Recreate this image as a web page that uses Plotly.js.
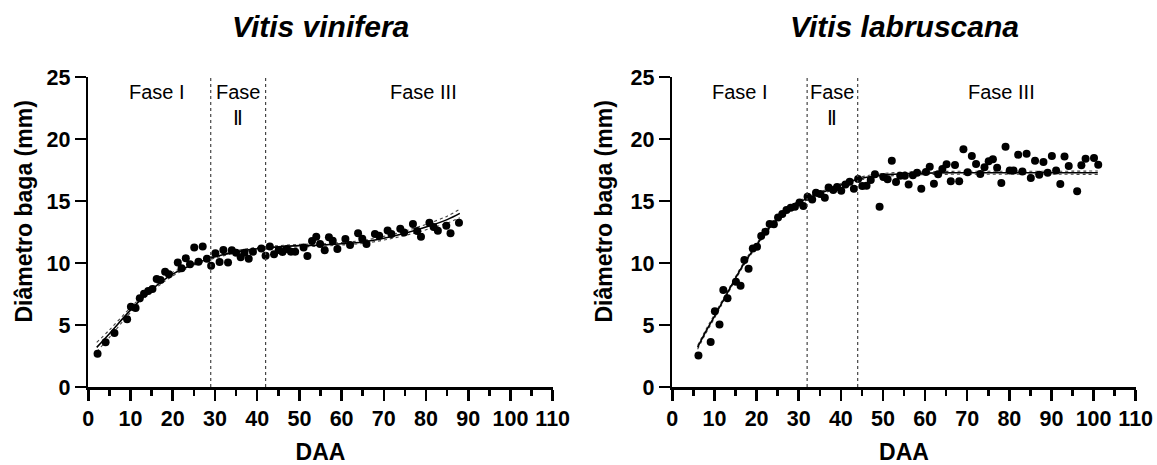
<!DOCTYPE html>
<html>
<head>
<meta charset="utf-8">
<script src="https://cdn.plot.ly/plotly-3.0.1.min.js"></script>
<style>html,body{margin:0;padding:0;background:#fff;}#chart{width:1157px;height:465px;}</style>
</head>
<body>
<div id="chart"></div>
<script>
// ---- Vitis vinifera (left panel) ----
const vvDay = [2.2,4.1,6.2,9.2,10.1,11.2,12.2,13.2,14.2,15.2,16.2,17.1,18.2,19.1,21.2,22.1,23.1,24.1,25.1,26.1,27.1,28.1,29.1,30.1,31.1,32.0,33.1,34.0,35.0,36.1,37.0,38.0,39.0,41.0,42.0,43.0,44.0,45.1,46.0,47.0,48.0,49.0,51.0,51.9,53.0,54.0,54.9,56.0,57.0,57.9,59.0,60.9,62.0,63.9,64.9,65.9,67.9,68.9,70.9,71.8,73.9,74.8,76.9,77.9,78.8,80.8,81.8,82.8,84.8,85.8,87.8];
const vvDiam = [2.69,3.6,4.35,5.46,6.48,6.37,7.15,7.53,7.74,7.9,8.71,8.63,9.3,9.09,10.05,9.57,10.38,9.89,11.26,10.1,11.34,10.35,9.78,10.78,10.08,11.05,10.05,11.02,10.83,10.46,10.83,10.35,10.91,11.16,10.59,11.34,10.7,11.05,10.89,11.13,10.91,10.91,11.26,10.56,11.77,12.12,11.53,11.02,12.07,11.8,11.13,11.94,11.45,12.39,11.96,11.53,12.34,12.2,12.63,12.34,12.77,12.47,13.15,12.58,12.12,13.25,12.9,12.6,13.0,12.39,13.25];
const vvFitDay = [2,5,10,15,20,25,30,35,40,45,50,55,60,65,70,75,80,85,88];
const vvFit    = [3.2,4.3,6.2,7.85,9.1,9.9,10.5,10.9,11.15,11.3,11.4,11.45,11.55,11.7,12.0,12.4,12.9,13.5,14.0];
const vvUpper  = [3.6,4.6,6.4,8.0,9.25,10.0,10.6,11.0,11.25,11.4,11.5,11.55,11.65,11.82,12.15,12.58,13.12,13.78,14.35];
const vvLower  = [2.85,4.0,6.0,7.7,8.95,9.8,10.4,10.8,11.05,11.2,11.3,11.35,11.45,11.58,11.85,12.22,12.68,13.22,13.65];
const vvPhases = [29, 42];

// ---- Vitis labruscana (right panel) ----
const vlDay = [6.2,9.1,10.1,11.2,12.1,13.1,15.1,16.2,17.1,18.1,19.1,20.1,21.1,22.1,23.1,24.1,25.1,26.1,27.1,28.1,29.1,30.2,31.1,32.1,33.2,34.1,35.1,36.2,37.1,38.2,39.1,40.1,41.1,42.1,43.1,44.1,45.1,46.1,47.1,48.1,49.2,50.1,51.1,52.1,53.1,54.1,55.2,56.1,57.1,58.1,59.1,60.2,61.1,62.1,63.1,64.1,65.1,66.1,67.1,68.1,69.1,70.1,71.1,72.1,73.1,74.1,75.1,76.1,77.1,78.1,79.1,80.1,81.0,82.1,83.1,84.1,85.1,86.1,87.1,88.1,89.1,90.1,91.1,92.1,93.1,94.1,96.1,97.1,98.1,100.1,101.1];
const vlDiam = [2.55,3.63,6.1,5.05,7.82,7.15,8.49,8.17,10.24,9.54,11.18,11.32,12.18,12.53,13.15,13.12,13.68,13.95,14.27,14.46,14.54,14.87,14.6,15.35,15.13,15.67,15.56,15.27,16.08,15.89,16.13,15.83,16.34,16.56,15.99,16.77,16.21,16.24,16.69,17.15,14.54,16.94,16.75,18.25,16.53,17.04,17.04,16.34,17.07,17.28,15.99,17.34,17.77,16.4,17.15,17.58,17.96,16.59,17.9,16.59,19.17,17.31,18.63,17.98,17.18,17.72,18.2,18.36,17.69,16.45,19.38,17.45,17.45,18.74,17.37,18.82,16.85,18.25,17.12,18.15,17.28,18.63,17.45,16.37,18.58,17.82,15.78,17.88,18.41,18.47,17.93];
const vlFitDay = [6,8,10,13,17,20,23,27,31,35,39,44,48,52,56,60,70,80,90,101];
const vlFit    = [3.2,4.5,5.7,7.55,9.95,11.45,12.85,14.25,15.05,15.6,16.15,16.75,17.02,17.15,17.22,17.25,17.28,17.28,17.28,17.28];
const vlUpper  = [3.35,4.65,5.85,7.68,10.07,11.57,12.97,14.37,15.17,15.72,16.27,16.87,17.14,17.27,17.34,17.37,17.4,17.4,17.4,17.42];
const vlLower  = [3.05,4.35,5.55,7.42,9.83,11.33,12.73,14.13,14.93,15.48,16.03,16.63,16.9,17.03,17.1,17.13,17.16,17.16,17.16,17.14];
const vlPhases = [32, 44];

const panelTitles = ['Vitis vinifera', 'Vitis labruscana'];
const phaseLabels = ['Fase I', 'Fase<br>Ⅱ', 'Fase III'];
const vvPhaseLabelX = [16.3, 35.5, 79.3];
const vlPhaseLabelX = [16.1, 38, 78.2];
const xTitle = 'DAA';
const yTitle = 'Diâmetro baga (mm)';

const FONT = 'Liberation Sans, Arial, sans-serif';

function panelTraces(day, diam, fx, fy, up, lo, xa, ya) {
  return [
    {x: fx, y: up, xaxis: xa, yaxis: ya, mode: 'lines', line: {color: '#444', width: 1.1, dash: 'dot', shape: 'spline'}, hoverinfo: 'skip', showlegend: false},
    {x: fx, y: lo, xaxis: xa, yaxis: ya, mode: 'lines', line: {color: '#444', width: 1.1, dash: 'dot', shape: 'spline'}, hoverinfo: 'skip', showlegend: false},
    {x: fx, y: fy, xaxis: xa, yaxis: ya, mode: 'lines', line: {color: '#000', width: 1.6, shape: 'spline'}, showlegend: false},
    {x: day, y: diam, xaxis: xa, yaxis: ya, mode: 'markers', marker: {color: '#000', size: 8}, showlegend: false}
  ];
}

const data = [].concat(
  panelTraces(vvDay, vvDiam, vvFitDay, vvFit, vvUpper, vvLower, 'x', 'y'),
  panelTraces(vlDay, vlDiam, vlFitDay, vlFit, vlUpper, vlLower, 'x2', 'y2')
);

const yDom = [0.1677, 0.8344];
function xAxis(dom, anchor) {
  return {
    domain: dom, anchor: anchor, range: [0, 110], dtick: 10, tick0: 0,
    showgrid: false, zeroline: false, showline: true, linecolor: '#000', linewidth: 2.5,
    ticks: 'outside', ticklen: 11, tickwidth: 2.5, tickcolor: '#000',
    minor: {dtick: 5, ticks: 'outside', ticklen: 6, tickwidth: 2.5, tickcolor: '#000', showgrid: false},
    tickfont: {family: FONT, size: 21.5, color: '#000', weight: 'bold'},
    title: {text: '<b>' + xTitle + '</b>', font: {family: FONT, size: 23, color: '#000'}, standoff: 15},
    fixedrange: true
  };
}
function yAxis(anchor) {
  return {
    domain: yDom, anchor: anchor, range: [0, 25], dtick: 5, tick0: 0,
    showgrid: false, zeroline: false, showline: true, linecolor: '#000', linewidth: 2.5,
    ticks: 'outside', ticklen: 11, tickwidth: 2.5, tickcolor: '#000',
    tickfont: {family: FONT, size: 21.5, color: '#000', weight: 'bold'},
    fixedrange: true
  };
}

const shapes = [];
[[vvPhases, 'x', 'y'], [vlPhases, 'x2', 'y2']].forEach(([ph, xa, ya]) => {
  ph.forEach(p => shapes.push({type: 'line', xref: xa, yref: ya, x0: p, x1: p, y0: 0, y1: 25,
    line: {color: '#444', width: 1.2, dash: 'dot'}}));
});

const annotations = [];
[[panelTitles[0], 'x domain'], [panelTitles[1], 'x2 domain']].forEach(([t, xr]) => {
  annotations.push({text: '<b><i>' + t + '</i></b>', xref: xr, yref: 'paper', x: 0.5, y: 0.942,
    xanchor: 'center', yanchor: 'middle', showarrow: false, font: {family: FONT, size: 30, color: '#000'}});
});
// y-axis titles
[24 / 1157, 604 / 1157].forEach(xp => {
  annotations.push({text: '<b>' + yTitle + '</b>', xref: 'paper', yref: 'paper', x: xp, y: 0.545,
    xanchor: 'center', yanchor: 'middle', textangle: -90, showarrow: false,
    font: {family: FONT, size: 23, color: '#000'}});
});
[[vvPhaseLabelX, 'x', 'y'], [vlPhaseLabelX, 'x2', 'y2']].forEach(([xs, xa, ya]) => {
  xs.forEach((xv, i) => {
    annotations.push({text: phaseLabels[i], xref: xa, yref: ya, x: xv, y: 24.8, xanchor: 'center', yanchor: 'top',
      showarrow: false, font: {family: FONT, size: 20, color: '#000'}});
  });
});

const layout = {
  width: 1157, height: 465,
  margin: {l: 0, r: 0, t: 0, b: 0},
  paper_bgcolor: '#fff', plot_bgcolor: '#fff',
  xaxis: xAxis([0.0763, 0.4777], 'y'),
  yaxis: yAxis('x'),
  xaxis2: xAxis([0.5811, 0.9816], 'y2'),
  yaxis2: yAxis('x2'),
  shapes: shapes,
  annotations: annotations,
  showlegend: false
};

Plotly.newPlot('chart', data, layout, {displayModeBar: false, staticPlot: true});
</script>
</body>
</html>
